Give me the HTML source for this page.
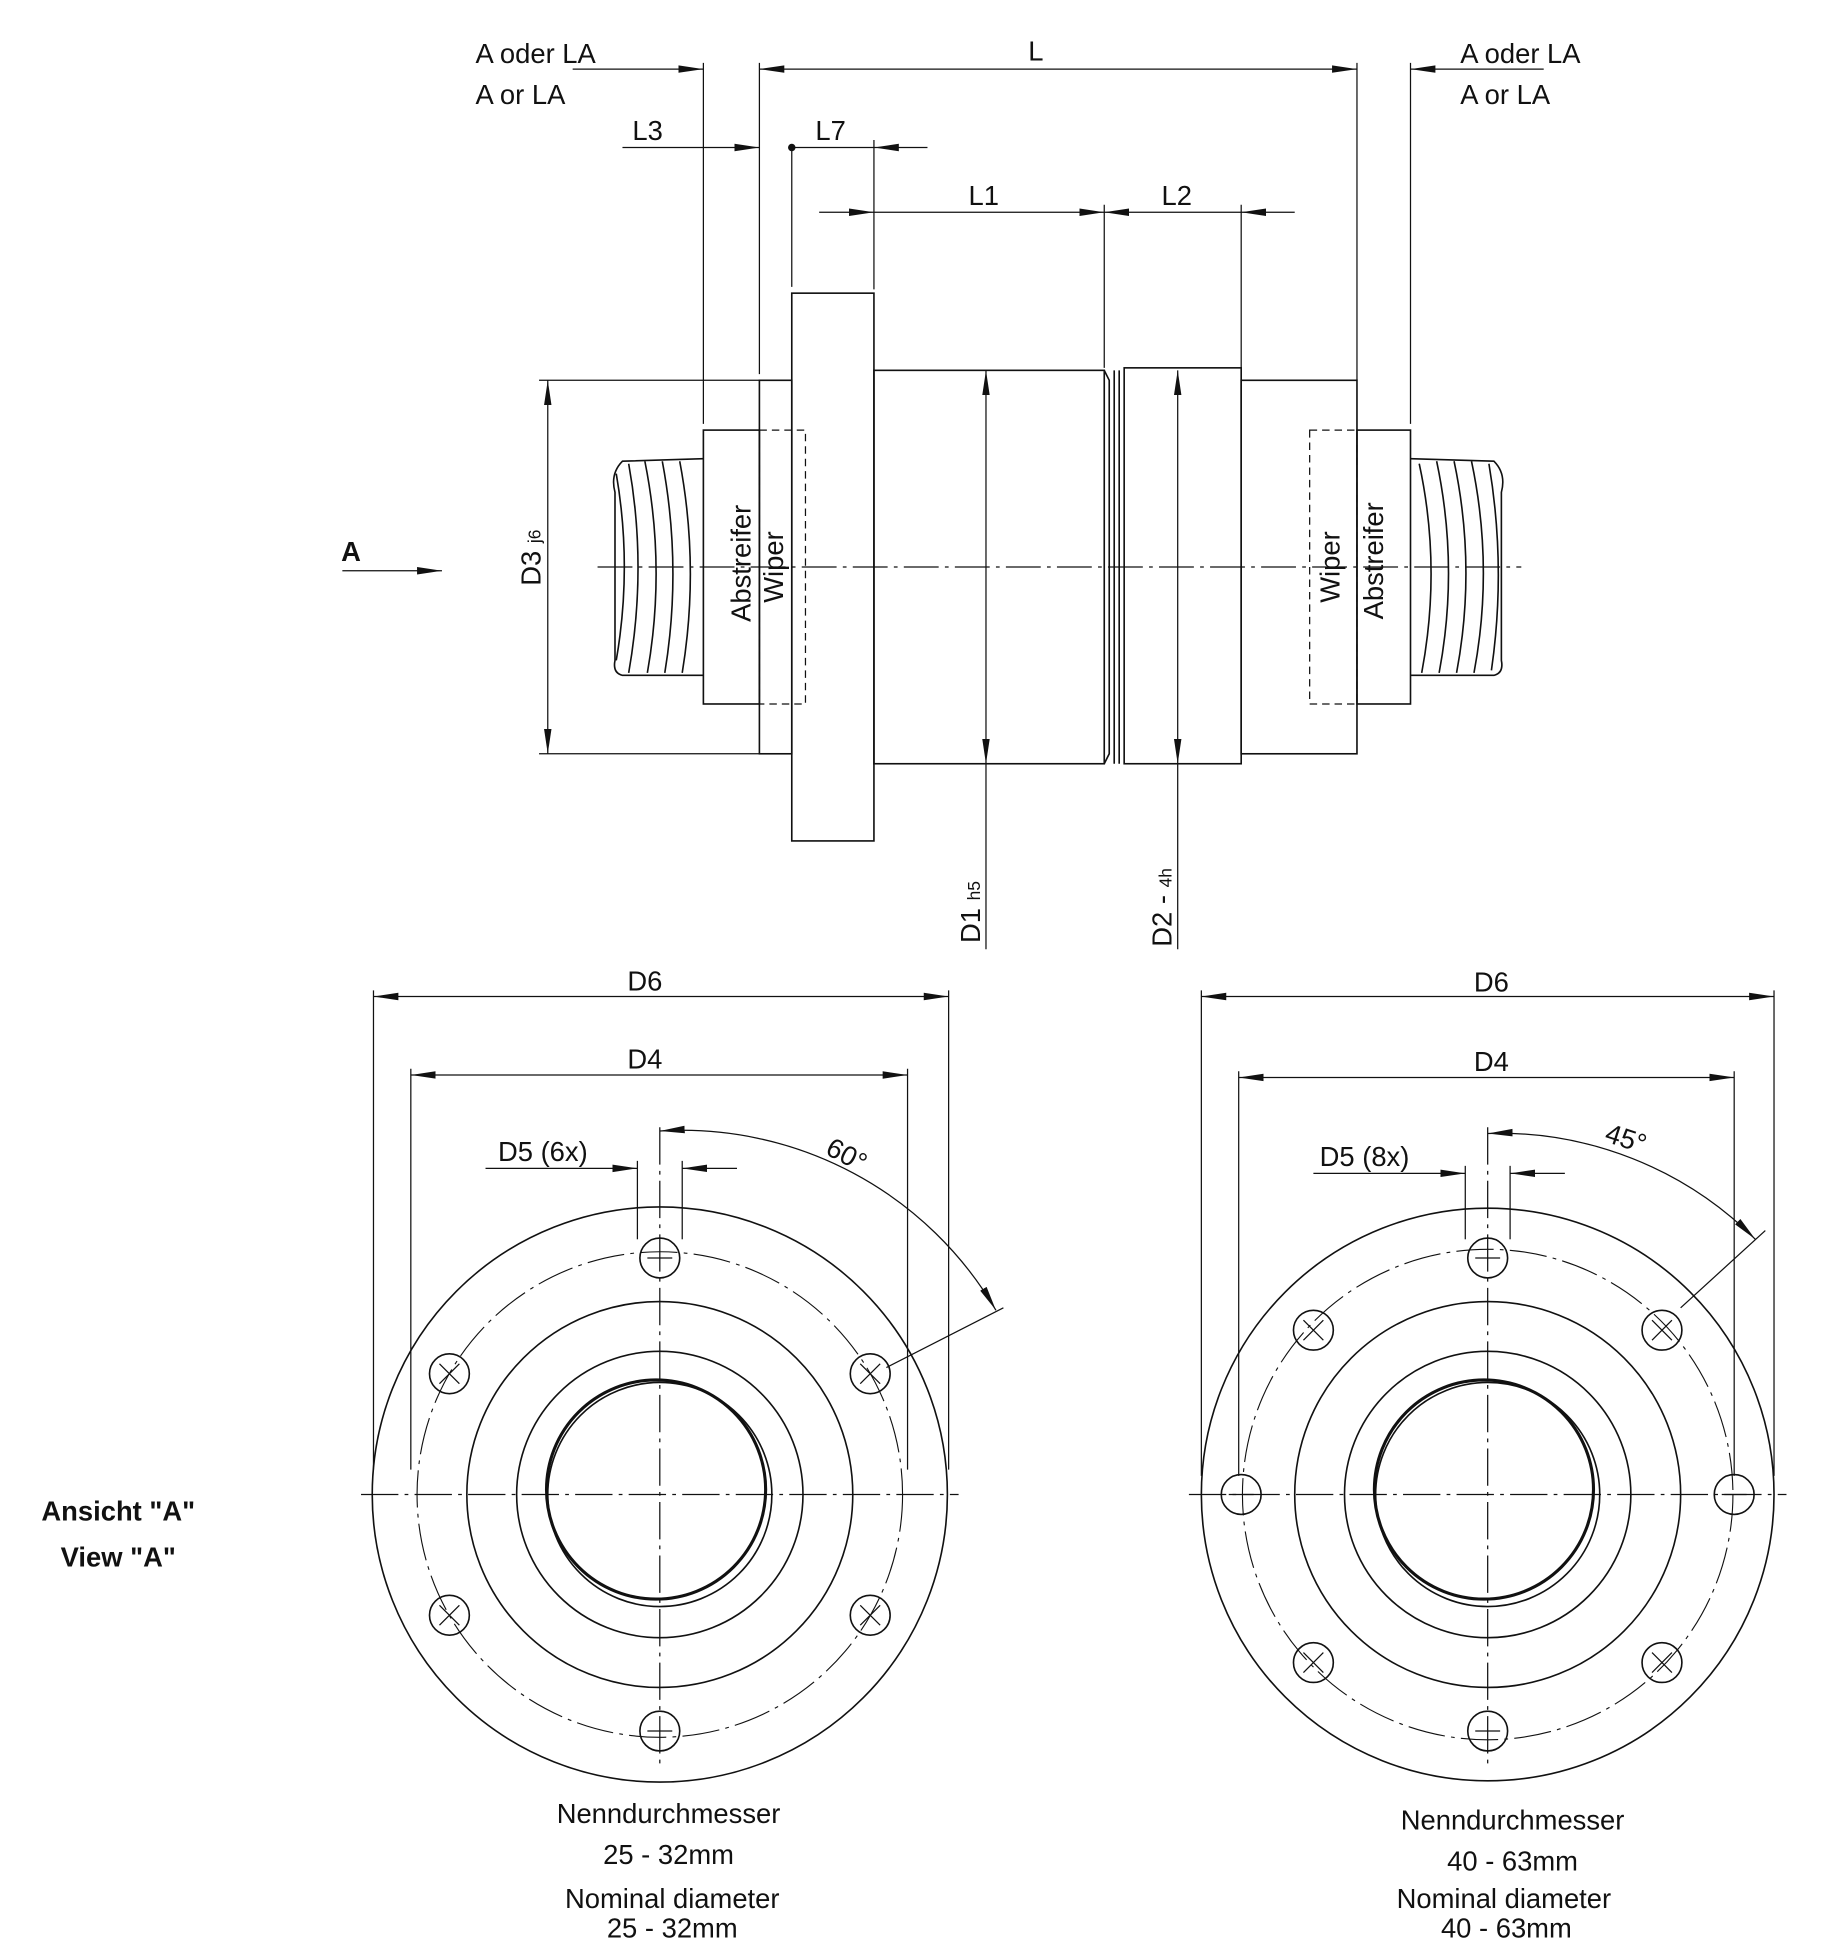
<!DOCTYPE html>
<html><head><meta charset="utf-8"><style>html,body{margin:0;padding:0;background:#fff}svg{display:block}text{font-family:"Liberation Sans",sans-serif;fill:#111}</style></head><body>
<svg width="1840" height="1952" viewBox="0 0 1478 1567" xmlns="http://www.w3.org/2000/svg">
<defs>
<marker id="a" viewBox="0 0 20 8" refX="20" refY="4" markerWidth="20" markerHeight="8" markerUnits="userSpaceOnUse" orient="auto-start-reverse"><path d="M0,1 L20,4 L0,7 z" fill="#111"/></marker>
<g id="hm" stroke="#111" fill="none" stroke-width="1.3"><circle r="16"/><line x1="-10" x2="10" stroke-width="1"/></g>
<g id="hx" stroke="#111" fill="none" stroke-width="1.3"><circle r="16"/><path d="M-8,-8 L8,8 M-8,8 L8,-8" stroke-width="1"/></g>
</defs>
<g stroke="#111" fill="none" stroke-width="1.3">
<line x1="480" y1="455" x2="1222" y2="455" stroke-dasharray="28 5 3 5" stroke-width="1"/>
<path d="M565,368 L500,370 Q490,380 494,395 L494,530 Q492,540 500,542 L565,542"/>
<path d="M505,372 Q520,455 505,540 M518,370 Q535,455 520,540 M532,370 Q548,455 534,540 M546,370 Q562,455 548,540 M495,380 Q508,455 495,530"/>
<path d="M1133,368 L1200,370 Q1210,380 1206,395 L1206,530 Q1208,540 1200,542 L1133,542"/>
<path d="M1140,372 Q1158,455 1142,540 M1154,370 Q1172,455 1156,540 M1168,370 Q1186,455 1170,540 M1182,370 Q1200,455 1184,540 M1196,372 Q1210,455 1198,538"/>
<rect x="565" y="345" width="45" height="220"/>
<rect x="610" y="305" width="26" height="300"/>
<rect x="636" y="235" width="66" height="440"/>
<rect x="702" y="297" width="185" height="316"/>
<path d="M887,297 L891,305 L891,605 L887,613 M895,297 L895,613 M899,297 L899,613"/>
<rect x="903" y="295" width="94" height="318"/>
<rect x="997" y="305" width="93" height="300"/>
<rect x="1090" y="345" width="43" height="220"/>
<rect x="610" y="345" width="37" height="220" stroke-dasharray="6 4" stroke-width="1"/>
<rect x="1052" y="345" width="38" height="220" stroke-dasharray="6 4" stroke-width="1"/>
<g stroke-width="1">
<line x1="610" y1="55" x2="1090" y2="55" marker-start="url(#a)" marker-end="url(#a)"/>
<line x1="610" y1="50" x2="610" y2="300"/><line x1="1090" y1="50" x2="1090" y2="305"/>
<line x1="460" y1="55" x2="565" y2="55" marker-end="url(#a)"/>
<line x1="1240" y1="55" x2="1133" y2="55" marker-end="url(#a)"/>
<line x1="565" y1="50" x2="565" y2="340"/><line x1="1133" y1="50" x2="1133" y2="340"/>
<line x1="500" y1="118" x2="610" y2="118" marker-end="url(#a)"/>
<line x1="745" y1="118" x2="702" y2="118" marker-end="url(#a)"/>
<line x1="636" y1="118" x2="702" y2="118"/>
<line x1="636" y1="118" x2="636" y2="230"/><line x1="702" y1="112" x2="702" y2="232"/>
<line x1="658" y1="170" x2="702" y2="170" marker-end="url(#a)"/>
<line x1="702" y1="170" x2="887" y2="170" marker-end="url(#a)"/>
<line x1="887" y1="170" x2="997" y2="170" marker-start="url(#a)"/>
<line x1="1040" y1="170" x2="997" y2="170" marker-end="url(#a)"/>
<line x1="887" y1="164" x2="887" y2="295"/><line x1="997" y1="164" x2="997" y2="295"/>
<line x1="440" y1="305" x2="440" y2="605" marker-start="url(#a)" marker-end="url(#a)"/>
<line x1="433" y1="305" x2="610" y2="305"/><line x1="433" y1="605" x2="610" y2="605"/>
<line x1="792" y1="297" x2="792" y2="613" marker-start="url(#a)" marker-end="url(#a)"/>
<line x1="792" y1="613" x2="792" y2="762"/>
<line x1="946" y1="297" x2="946" y2="613" marker-start="url(#a)" marker-end="url(#a)"/>
<line x1="946" y1="613" x2="946" y2="762"/>
<line x1="275" y1="458" x2="355" y2="458" marker-end="url(#a)"/>
</g>
</g>
<circle cx="636" cy="118" r="3" fill="#111"/>
<g font-size="22">
<text x="382" y="50">A oder LA</text><text x="382" y="83">A or LA</text>
<text x="1173" y="50">A oder LA</text><text x="1173" y="83">A or LA</text>
<text x="826" y="48">L</text>
<text x="508" y="112">L3</text><text x="655" y="112">L7</text>
<text x="778" y="164">L1</text><text x="933" y="164">L2</text>
<text x="274" y="450" font-weight="bold">A</text>
<text transform="translate(603,452) rotate(-90)" text-anchor="middle">Abstreifer</text>
<text transform="translate(629,455) rotate(-90)" text-anchor="middle">Wiper</text>
<text transform="translate(1076,455) rotate(-90)" text-anchor="middle">Wiper</text>
<text transform="translate(1111,450) rotate(-90)" text-anchor="middle">Abstreifer</text>
<text transform="translate(434,470) rotate(-90)">D3 <tspan font-size="14">j6</tspan></text>
<text transform="translate(787,757) rotate(-90)">D1 <tspan font-size="14">h5</tspan></text>
<text transform="translate(941,760) rotate(-90)">D2 - <tspan font-size="14">4h</tspan></text>
</g>
<g stroke="#111" fill="none" stroke-width="1.3">
<circle cx="530" cy="1200" r="231"/>
<circle cx="530" cy="1200" r="195" stroke-width="0.9" stroke-dasharray="30 5 3 5"/>
<circle cx="530" cy="1200" r="155"/>
<circle cx="530" cy="1200" r="115"/>
<circle cx="530" cy="1200" r="90"/>
<circle cx="527" cy="1196" r="88" stroke-width="2.5"/>
<g stroke-width="1"><line x1="290" y1="1200" x2="770" y2="1200" stroke-dasharray="30 5 3 5"/><line x1="530" y1="905" x2="530" y2="1420" stroke-dasharray="30 5 3 5"/>
<line x1="300" y1="800" x2="762" y2="800" marker-start="url(#a)" marker-end="url(#a)"/>
<line x1="300" y1="795" x2="300" y2="1180"/><line x1="762" y1="795" x2="762" y2="1180"/>
<line x1="330" y1="863" x2="729" y2="863" marker-start="url(#a)" marker-end="url(#a)"/>
<line x1="330" y1="858" x2="330" y2="1180"/><line x1="729" y1="858" x2="729" y2="1180"/>
<line x1="390" y1="938" x2="512" y2="938" marker-end="url(#a)"/>
<line x1="592" y1="938" x2="548" y2="938" marker-end="url(#a)"/>
<line x1="512" y1="932" x2="512" y2="995"/><line x1="548" y1="932" x2="548" y2="995"/>
<path d="M530,908 A292,292 0 0 1 800,1052" marker-start="url(#a)" marker-end="url(#a)"/>
<line x1="712" y1="1098" x2="806" y2="1050"/>
</g>
</g>
<use href="#hm" x="530" y="1010"/><use href="#hm" x="530" y="1390"/>
<use href="#hx" x="699" y="1103"/><use href="#hx" x="699" y="1297"/><use href="#hx" x="361" y="1103"/><use href="#hx" x="361" y="1297"/>
<g stroke="#111" fill="none" stroke-width="1.3">
<circle cx="1195" cy="1200" r="230"/>
<circle cx="1195" cy="1200" r="197" stroke-width="0.9" stroke-dasharray="30 5 3 5"/>
<circle cx="1195" cy="1200" r="155"/>
<circle cx="1195" cy="1200" r="115"/>
<circle cx="1195" cy="1200" r="90"/>
<circle cx="1192" cy="1196" r="88" stroke-width="2.5"/>
<g stroke-width="1"><line x1="955" y1="1200" x2="1435" y2="1200" stroke-dasharray="30 5 3 5"/><line x1="1195" y1="905" x2="1195" y2="1420" stroke-dasharray="30 5 3 5"/>
<line x1="965" y1="800" x2="1425" y2="800" marker-start="url(#a)" marker-end="url(#a)"/>
<line x1="965" y1="795" x2="965" y2="1185"/><line x1="1425" y1="795" x2="1425" y2="1185"/>
<line x1="995" y1="865" x2="1393" y2="865" marker-start="url(#a)" marker-end="url(#a)"/>
<line x1="995" y1="860" x2="995" y2="1185"/><line x1="1393" y1="860" x2="1393" y2="1185"/>
<line x1="1055" y1="942" x2="1177" y2="942" marker-end="url(#a)"/>
<line x1="1257" y1="942" x2="1213" y2="942" marker-end="url(#a)"/>
<line x1="1177" y1="936" x2="1177" y2="995"/><line x1="1213" y1="936" x2="1213" y2="995"/>
<path d="M1195,910 A290,290 0 0 1 1410,995" marker-start="url(#a)" marker-end="url(#a)"/>
<line x1="1350" y1="1050" x2="1418" y2="988"/>
</g>
<g><circle cx="997" cy="1200" r="16"/><line x1="987" y1="1200" x2="1007" y2="1200" stroke-width="1"/></g>
<g><circle cx="1393" cy="1200" r="16"/><line x1="1383" y1="1200" x2="1403" y2="1200" stroke-width="1"/></g>
</g>
<use href="#hm" x="1195" y="1010"/><use href="#hm" x="1195" y="1390"/>
<use href="#hx" x="1055" y="1068"/><use href="#hx" x="1335" y="1068"/><use href="#hx" x="1055" y="1335"/><use href="#hx" x="1335" y="1335"/>
<g font-size="22">
<text x="518" y="795" text-anchor="middle">D6</text><text x="518" y="858" text-anchor="middle">D4</text>
<text x="400" y="932">D5 (6x)</text>
<text transform="translate(662,926) rotate(28)">60°</text>
<text x="1198" y="796" text-anchor="middle">D6</text><text x="1198" y="860" text-anchor="middle">D4</text>
<text x="1060" y="936">D5 (8x)</text>
<text transform="translate(1288,916) rotate(18)">45°</text>
<text x="95" y="1221" text-anchor="middle" font-weight="bold">Ansicht "A"</text>
<text x="95" y="1258" text-anchor="middle" font-weight="bold">View "A"</text>
<text x="537" y="1464" text-anchor="middle">Nenndurchmesser</text>
<text x="537" y="1497" text-anchor="middle">25 - 32mm</text>
<text x="540" y="1532" text-anchor="middle">Nominal diameter</text>
<text x="540" y="1556" text-anchor="middle">25 - 32mm</text>
<text x="1215" y="1469" text-anchor="middle">Nenndurchmesser</text>
<text x="1215" y="1502" text-anchor="middle">40 - 63mm</text>
<text x="1208" y="1532" text-anchor="middle">Nominal diameter</text>
<text x="1210" y="1556" text-anchor="middle">40 - 63mm</text>
</g>
</svg>
</body></html>
